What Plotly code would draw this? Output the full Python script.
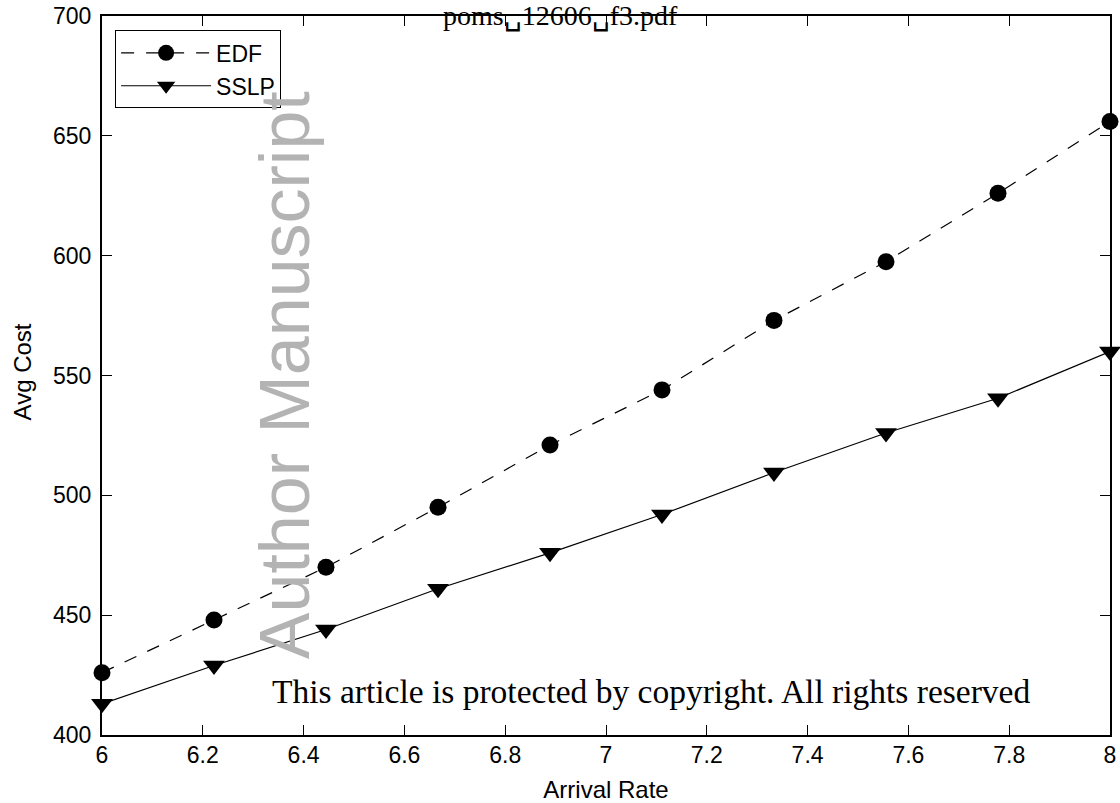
import plotly.graph_objects as go

arrival_rate = [6.0, 6.2222, 6.4444, 6.6667, 6.8889, 7.1111, 7.3333, 7.5556, 7.7778, 8.0]
edf_cost = [426, 448, 470, 495, 521, 544, 573, 597.5, 626, 656]
sslp_cost = [413, 429, 444, 461, 476, 492, 509.5, 526, 540.5, 560]
x_ticks = [6, 6.2, 6.4, 6.6, 6.8, 7, 7.2, 7.4, 7.6, 7.8, 8]
x_tick_text = ["6", "6.2", "6.4", "6.6", "6.8", "7", "7.2", "7.4", "7.6", "7.8", "8"]
y_ticks = [400, 450, 500, 550, 600, 650, 700]

fig = go.Figure()
fig.add_trace(go.Scatter(
    x=arrival_rate, y=edf_cost, name="EDF", mode="lines+markers",
    line=dict(color="black", width=1.2, dash="13px,12px"),
    marker=dict(symbol="circle", size=17, color="black"),
    cliponaxis=False,
))
fig.add_trace(go.Scatter(
    x=arrival_rate, y=sslp_cost, name="SSLP", mode="lines+markers",
    line=dict(color="black", width=1.2),
    marker=dict(symbol="triangle-down", size=19, color="black"),
    cliponaxis=False,
))

axis_common = dict(
    showline=True, linecolor="black", linewidth=2, mirror="ticks",
    ticks="inside", ticklen=10, tickcolor="black", tickwidth=1,
    showgrid=False, zeroline=False, automargin=False,
    ticklabeloverflow="allow",
    tickfont=dict(family="Liberation Sans, Arial", size=23, color="black"),
)
fig.update_xaxes(range=[6, 8], tickvals=x_ticks, ticktext=x_tick_text,
                 ticklabelstandoff=-2,
                 title=dict(text="Arrival Rate", font=dict(family="Liberation Sans, Arial", size=24, color="black"), standoff=19),
                 **axis_common)
fig.update_yaxes(range=[400, 700], tickvals=y_ticks,
                 ticklabelstandoff=4,
                 **axis_common)

fig.add_annotation(text="Avg Cost", xref="paper", yref="paper",
                   x=0, y=0.505, xanchor="center", yanchor="middle", xshift=-79.5,
                   showarrow=False, textangle=-90,
                   font=dict(family="Liberation Sans, Arial", size=24, color="black"))
fig.add_annotation(text="Author Manuscript", xref="paper", yref="paper",
                   x=0.181, y=0.501, xanchor="center", yanchor="middle",
                   showarrow=False, textangle=-90,
                   font=dict(family="Liberation Sans, Arial", size=70, color="#b3b3b3"))
fig.add_annotation(text="This article is protected by copyright. All rights reserved",
                   xref="paper", yref="paper", x=0.545, y=0.06, xanchor="center",
                   yanchor="middle", showarrow=False,
                   font=dict(family="Liberation Serif, serif", size=33.5, color="black"))
fig.add_annotation(text="poms\u242312606\u2423f3.pdf", xref="paper", yref="paper",
                   x=0.455, y=1.0, xanchor="center", yanchor="middle", yshift=0,
                   showarrow=False,
                   font=dict(family="Liberation Serif, serif", size=28, color="black"))

fig.update_layout(
    width=1120, height=803,
    margin=dict(l=101.5, r=9.5, t=16, b=68, autoexpand=False),
    paper_bgcolor="white", plot_bgcolor="white",
    showlegend=True,
    legend=dict(x=0.013, y=0.98, xanchor="left", yanchor="top",
                bgcolor="white", bordercolor="black", borderwidth=1,
                font=dict(family="Liberation Sans, Arial", size=23, color="black"),
                itemwidth=90, tracegroupgap=0),
)

fig.write_html("out.html",
               config={"displayModeBar": False},
               post_script="document.body.style.margin='0';document.body.style.padding='0';document.body.style.overflow='hidden';")
